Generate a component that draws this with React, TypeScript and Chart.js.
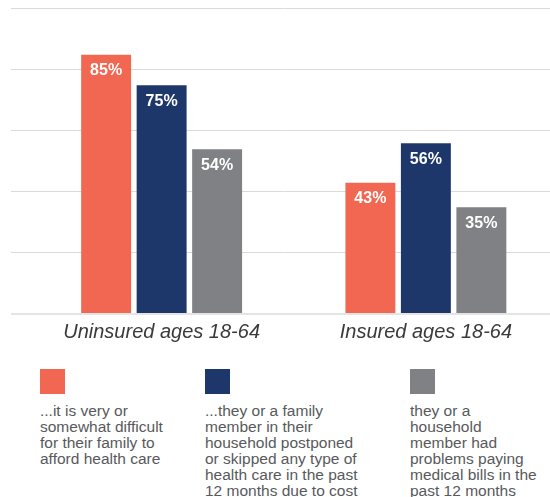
import React, { useEffect, useRef } from "react";
import { Chart, registerables } from "chart.js";

Chart.register(...registerables);

const categories = ["Uninsured ages 18-64", "Insured ages 18-64"];
const difficultToAfford = [85, 43];
const postponedCare = [75, 56];
const problemsPayingBills = [54, 35];
const yTicks = [0, 20, 40, 60, 80, 100];
const seriesNames = [
  "it is very or somewhat difficult for their family to afford health care",
  "they or a family member in their household postponed or skipped any type of health care in the past 12 months due to cost",
  "they or a household member had problems paying medical bills in the past 12 months",
];
const legendLines = [
  ["...it is very or", "somewhat difficult", "for their family to", "afford health care"],
  ["...they or a family", "member in their", "household postponed", "or skipped any type of", "health care in the past", "12 months due to cost"],
  ["they or a", "household", "member had", "problems paying", "medical bills in the", "past 12 months"],
];

const COLORS = ["#F26751", "#1E376B", "#808184"];
const FONT = "'Liberation Sans', Arial, Helvetica, sans-serif";
const LEGEND_X = [40, 205, 410];

const gridPlugin = {
  id: "fullGrid",
  beforeDatasetsDraw(chart: any) {
    const { ctx } = chart;
    const y = chart.scales.y;
    ctx.save();
    yTicks.forEach((v) => {
      if (v === 0) return;
      const py = Math.round(y.getPixelForValue(v)) - 0.5;
      ctx.strokeStyle = "#dadada";
      ctx.lineWidth = 1;
      ctx.beginPath();
      ctx.moveTo(11, py);
      ctx.lineTo(chart.width, py);
      ctx.stroke();
    });
    ctx.restore();
  },
  afterDatasetsDraw(chart: any) {
    const { ctx } = chart;
    const y = chart.scales.y;
    ctx.save();
    const py = Math.round(y.getPixelForValue(0));
    ctx.strokeStyle = "#e4e4e4";
    ctx.lineWidth = 2;
    ctx.beginPath();
    ctx.moveTo(11, py);
    ctx.lineTo(chart.width, py);
    ctx.stroke();
    // value labels
    ctx.fillStyle = "#ffffff";
    ctx.font = `bold 16px ${FONT}`;
    ctx.textAlign = "center";
    ctx.textBaseline = "middle";
    chart.data.datasets.forEach((ds: any, di: number) => {
      const meta = chart.getDatasetMeta(di);
      meta.data.forEach((bar: any, i: number) => {
        ctx.fillText(`${ds.data[i]}%`, bar.x, bar.y + 16);
      });
    });
    ctx.restore();
  },
};

export default function App() {
  const canvasRef = useRef<HTMLCanvasElement>(null);

  useEffect(() => {
    if (!canvasRef.current) return;
    const series = [difficultToAfford, postponedCare, problemsPayingBills];
    const chart = new Chart(canvasRef.current, {
      type: "bar",
      data: {
        labels: categories,
        datasets: series.map((d, i) => ({
          label: seriesNames[i],
          data: d,
          backgroundColor: COLORS[i],
          borderWidth: 0,
          barPercentage: 0.9,
          categoryPercentage: 0.63,
        })),
      },
      options: {
        responsive: false,
        animation: false,
        layout: { padding: { left: 29.5, right: 0, top: 9, bottom: 0 } },
        plugins: { legend: { display: false }, tooltip: { enabled: false } },
        scales: {
          x: {
            grid: { display: false, drawTicks: false },
            border: { display: false },
            ticks: {
              color: "#3a3a3a",
              font: { family: FONT, size: 20, style: "italic" },
              padding: 6,
              maxRotation: 0,
              autoSkip: false,
            },
            afterFit: (scale: any) => {
              scale.height = 36;
            },
          },
          y: {
            display: false,
            min: 0,
            max: 100,
            ticks: { stepSize: 20 },
          },
        },
      },
      plugins: [gridPlugin],
    });
    return () => chart.destroy();
  }, []);

  return (
    <div style={{ position: "absolute", left: 0, top: 0, width: 550, height: 497, background: "#fff", overflow: "hidden", fontFamily: FONT }}>
      <canvas ref={canvasRef} width={558} height={350} style={{ position: "absolute", left: 0, top: 0 }} />
      {legendLines.map((lines, i) => (
        <React.Fragment key={i}>
          <div style={{ position: "absolute", left: LEGEND_X[i], top: 369, width: 25, height: 25, background: COLORS[i] }} />
          <div style={{ position: "absolute", left: LEGEND_X[i], top: 403, fontSize: 15.5, lineHeight: "16px", color: "#58595b", whiteSpace: "nowrap" }}>
            {lines.map((l, j) => (
              <div key={j}>{l}</div>
            ))}
          </div>
        </React.Fragment>
      ))}
    </div>
  );
}
